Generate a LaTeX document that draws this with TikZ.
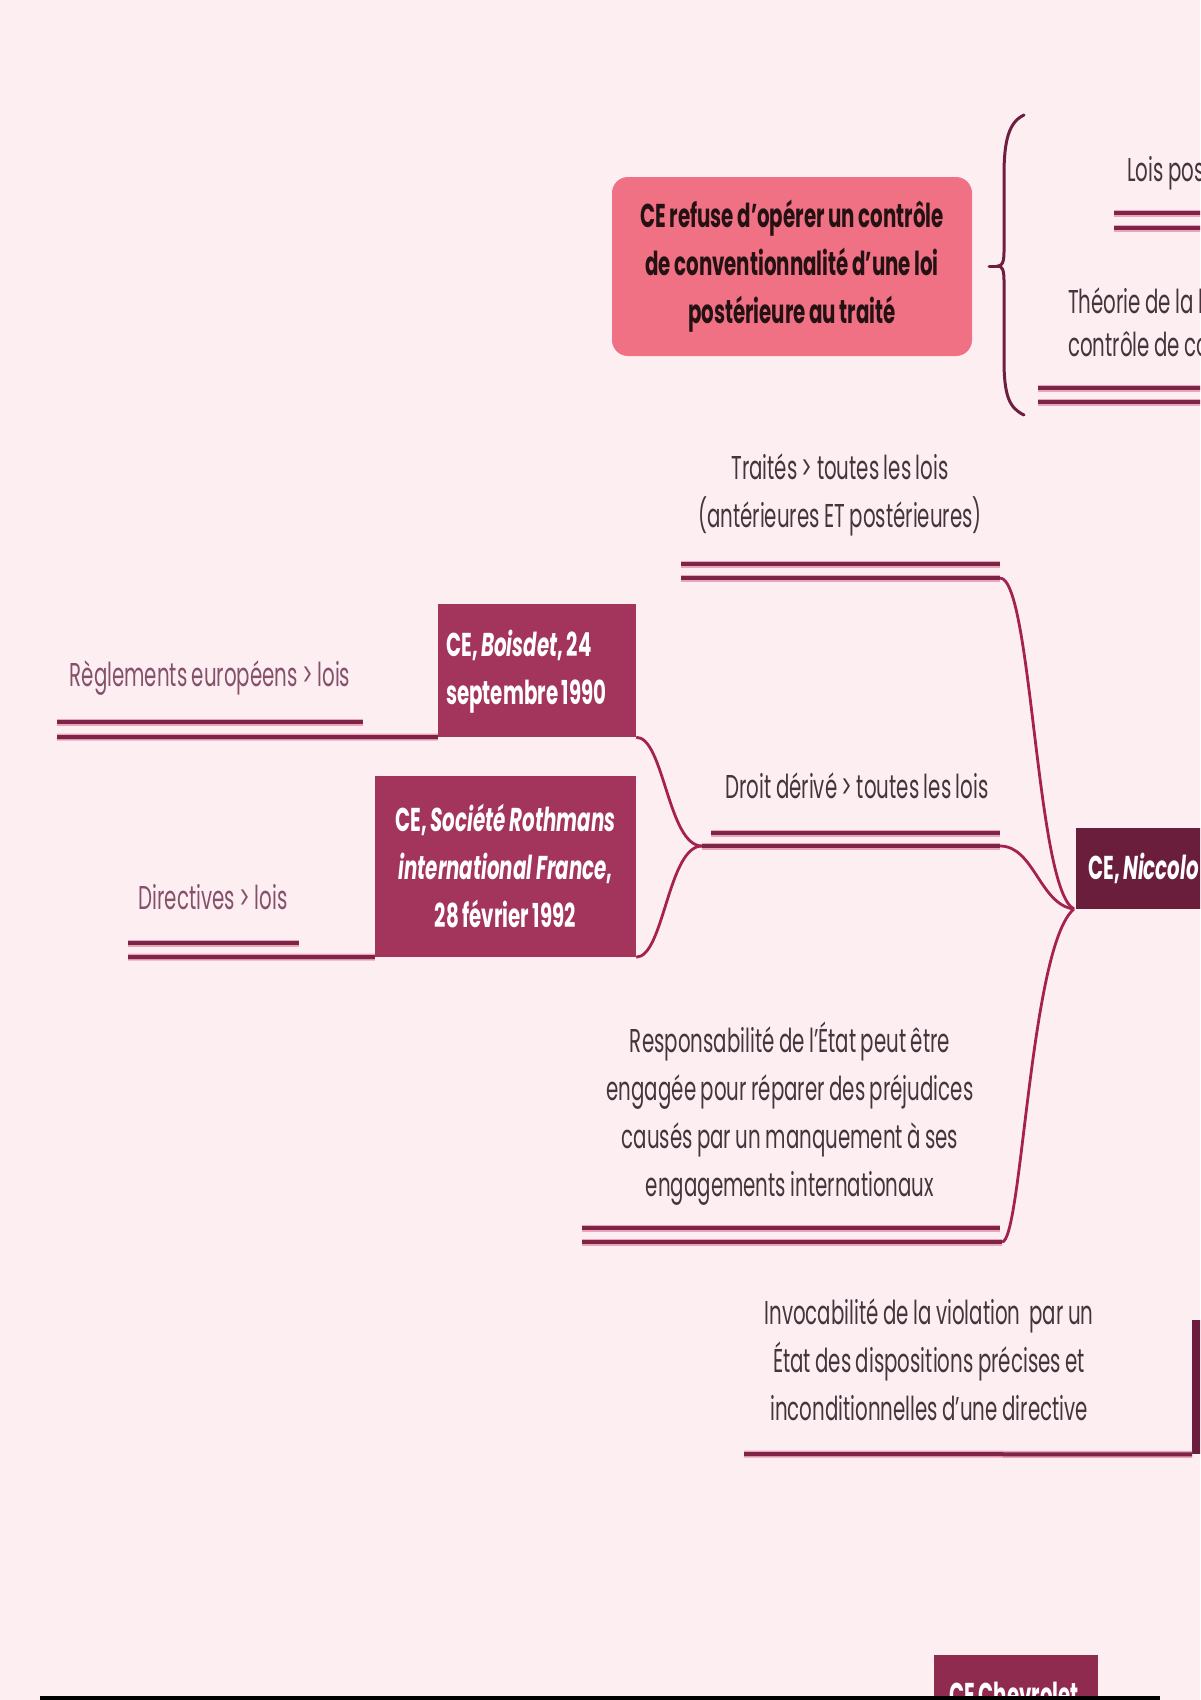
\documentclass[tikz,border=0pt]{standalone}
\usepackage{fontspec}
\setmainfont[FakeStretch=0.6, WordSpace=0.85]{Poppins}
\definecolor{bg}{HTML}{FDEEF2}
\definecolor{pinkbox}{HTML}{F07183}
\definecolor{maroonbox}{HTML}{A3345B}
\definecolor{darkbox}{HTML}{6A1E3B}
\definecolor{chevbox}{HTML}{8F2B4F}
\definecolor{linedark}{HTML}{7E2547}
\definecolor{halo}{HTML}{EBA5BA}
\definecolor{curvecol}{HTML}{A52250}
\definecolor{bracecol}{HTML}{6E1F40}
\definecolor{txt}{HTML}{45343B}
\definecolor{txtlight}{HTML}{85506A}
\begin{document}
\begin{tikzpicture}[x=1pt,y=-1pt,
  lbl/.style={font=\fontsize{33}{48}\selectfont, text=txt, align=center, inner sep=0pt},
  lbllight/.style={lbl, text=txtlight},
  boxtext/.style={font=\bfseries\fontsize{33}{48}\selectfont, text=white, inner sep=0pt},
  uline/.style={line width=4pt, draw=linedark, preaction={draw=halo, line width=7pt}},
  curve/.style={line width=2.8pt, draw=curvecol},
  bracestyle/.style={line width=3pt, draw=bracecol, line cap=round}]
\path[use as bounding box] (0,0) rectangle (1200,1700);
\fill[bg] (0,0) rectangle (1200,1700);
\clip (0,0) rectangle (1200,1700);

% pink box
\node[fill=pinkbox, rounded corners=16pt, minimum width=360pt, minimum height=179pt,
      font=\bfseries\fontsize{33}{48}\selectfont, text=black!85!pinkbox, align=center, inner sep=0pt]
  (refuse) at (792,266.5) {CE refuse d’opérer un contrôle\\de conventionnalité d’une loi\\postérieure au traité};
% brace
\coordinate (bt) at (998,266);
\coordinate (btick) at (989,266);
\draw[bracestyle] (1024,115) .. controls (1009,122) and (1004,140) .. (1004,175) -- (1004,252)
   .. controls (1004,262) and (1002,266) .. (bt)
   .. controls (1002,266) and (1004,270) .. (1004,280) -- (1004,360)
   .. controls (1004,395) and (1009,408) .. (1024,415);
\draw[bracestyle] (btick) -- (bt);

% right-edge topics
\node[lbl, anchor=west] (lois) at (1127,173) {Lois pos};
\draw[uline] (1114,213) -- (1210,213);
\draw[uline] (1114,228) -- (1210,228);
\node[lbl, anchor=west, align=left, font=\fontsize{33}{43}\selectfont] (theorie) at (1068,322) {Théorie de la l\\contrôle de co};
\draw[uline] (1038,388) -- (1210,388);
\draw[uline] (1038,402) -- (1210,402);

% Niccolo box
\node[fill=darkbox, anchor=west, minimum width=200pt, minimum height=81pt, inner sep=0pt] (nic) at (1076,868.5) {};
\node[boxtext, anchor=west] (nictext) at (1088,868.5) {CE, \textit{Niccolo}};
\coordinate (J) at (1074,909);

% Traites
\node[lbl] (traites) at (840,495) {Traités > toutes les lois\\(antérieures ET postérieures)};
\coordinate (tU1) at (681,564); \coordinate (tU2) at (1000,564);
\coordinate (tL1) at (681,578); \coordinate (tL2) at (1000,578);
\draw[uline] (tU1) -- (tU2);
\draw[uline] (tL1) -- (tL2);
\draw[curve] (tL2) .. controls (1032,578) and (1036,890) .. (J);

% Droit derive
\node[lbl] (droit) at (857,786) {Droit dérivé > toutes les lois};
\coordinate (J2) at (702,846);
\coordinate (dU1) at (711,833); \coordinate (dU2) at (1000,833);
\coordinate (dL2) at (1000,846);
\draw[uline] (dU1) -- (dU2);
\draw[uline] (J2) -- (dL2);
\draw[curve] (dL2) .. controls (1034,846) and (1040,905) .. (J);

% Boisdet
\node[fill=maroonbox, minimum width=198pt, minimum height=133pt, inner sep=0pt] (bois) at (537,670.5) {};
\node[boxtext, anchor=west, align=left] (boistext) at (446,672) {CE, \textit{Boisdet}, 24\\septembre 1990};
\node[lbllight] (regl) at (210,678) {Règlements européens > lois};
\draw[uline] (57,722) -- (363,722);
\coordinate (rg1) at (57,737);
\draw[uline] (rg1) -- (bois.south west);
\draw[curve] (bois.south east) .. controls (664,737) and (668,846) .. (J2);

% Rothmans
\node[fill=maroonbox, minimum width=261pt, minimum height=181pt, align=center, boxtext]
  (roth) at (505.5,866.5) {CE, \textit{Société Rothmans}\\\textit{international France},\\28 février 1992};
\node[lbllight] (direct) at (213,897) {Directives > lois};
\draw[uline] (128,943) -- (299,943);
\coordinate (dr1) at (128,957);
\draw[uline] (dr1) -- (roth.south west);
\draw[curve] (roth.south east) .. controls (664,957) and (668,846) .. (J2);

% Responsabilite
\node[lbl] (resp) at (790,1114) {Responsabilité de l’État peut être\\engagée pour réparer des préjudices\\causés par un manquement à ses\\engagements internationaux};
\coordinate (rU1) at (582,1228); \coordinate (rU2) at (1000,1228);
\coordinate (rL1) at (582,1242); \coordinate (rL2) at (1002,1242);
\draw[uline] (rU1) -- (rU2);
\draw[uline] (rL1) -- (rL2);
\draw[curve] (rL2) .. controls (1022,1242) and (1030,945) .. (J);

% Invocabilite
\node[lbl] (invoc) at (929,1360) {Invocabilité de la violation~ par un\\État des dispositions précises et\\inconditionnelles d’une directive};
\node[fill=darkbox, anchor=north west, minimum width=40pt, minimum height=134pt, inner sep=0pt] (rightbox) at (1192,1320) {};
\coordinate (iv1) at (744,1454);
\draw[uline] (iv1) -- (rightbox.south west);

% Chevrolet
\node[fill=chevbox, anchor=north west, minimum width=164pt, minimum height=60pt, inner sep=0pt] (chev) at (934,1655) {};
\node[boxtext, anchor=base west] (chevtext) at (949,1706) {CE Chevrolet};
\fill[black] (40,1696) rectangle (1160,1700);
\end{tikzpicture}
\end{document}
